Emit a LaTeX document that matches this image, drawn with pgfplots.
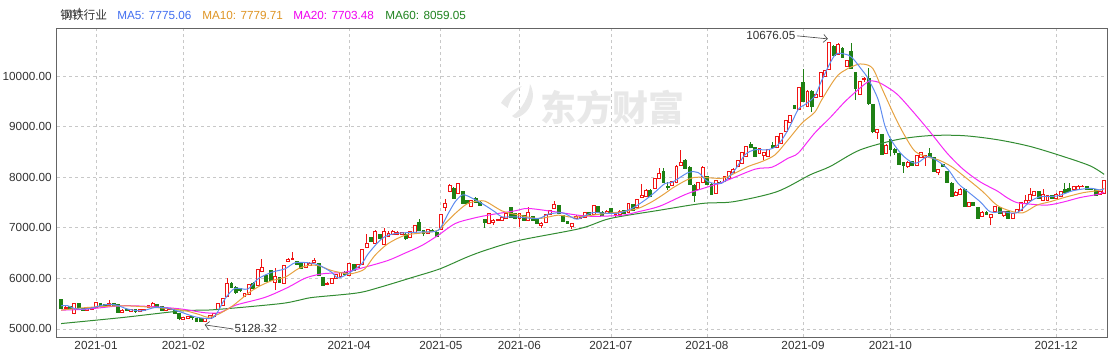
\documentclass[border=0pt]{standalone}
\usepackage{fontspec}
\setmainfont{Liberation Sans}
\newfontfamily\cjk{Noto Sans CJK SC}
\usepackage{pgfplots}
\pgfplotsset{compat=1.18}
\usepackage{pgfplotstable}
\usetikzlibrary{arrows.meta}

\definecolor{cup}{RGB}{240,20,20}
\definecolor{cdown}{RGB}{30,128,20}
\definecolor{ma5}{RGB}{95,140,240}
\definecolor{ma10}{RGB}{230,162,65}
\definecolor{ma20}{RGB}{245,40,245}
\definecolor{ma60}{RGB}{50,140,50}
\definecolor{t5}{RGB}{65,110,240}
\definecolor{t10}{RGB}{222,148,35}
\definecolor{t20}{RGB}{240,0,240}
\definecolor{t60}{RGB}{30,130,30}
\definecolor{axisgray}{RGB}{100,100,100}
\definecolor{gridgray}{RGB}{200,200,200}
\definecolor{labelgray}{RGB}{50,50,50}
\definecolor{wm}{RGB}{232,232,232}

\pgfplotstableread{
i O H L C
0 5580 5590 5390 5400
1 5410 5445 5400 5430
2 5440 5450 5405 5415
3 5310 5520 5290 5500
4 5500 5510 5420 5430
5 5400 5410 5360 5370
6 5365 5410 5355 5400
7 5380 5430 5370 5420
8 5430 5540 5420 5520
9 5500 5510 5450 5465
10 5480 5490 5445 5455
11 5460 5570 5450 5500
12 5500 5510 5460 5470
13 5480 5490 5320 5330
14 5330 5385 5320 5375
15 5390 5400 5350 5360
16 5350 5390 5340 5380
17 5390 5395 5320 5340
18 5355 5390 5350 5380
19 5370 5390 5360 5380
20 5420 5480 5410 5475
21 5440 5540 5430 5500
22 5490 5500 5430 5440
23 5440 5445 5350 5360
24 5370 5410 5365 5400
25 5390 5410 5380 5400
26 5390 5395 5300 5310
27 5310 5320 5170 5210
28 5195 5235 5185 5225
29 5210 5250 5200 5240
30 5240 5260 5180 5225
31 5210 5220 5150 5160
32 5200 5210 5140 5150
33 5140 5220 5128.32 5210
34 5200 5280 5190 5270
35 5250 5310 5240 5300
36 5380 5510 5370 5500
37 5460 5620 5450 5600
38 5640 6010 5630 5900
39 5910 5930 5800 5820
40 5830 5840 5700 5720
41 5800 5810 5740 5760
42 5650 5710 5640 5700
43 5680 5890 5670 5880
44 5910 5930 5790 5800
45 5860 6180 5850 6170
46 6135 6375 6120 6215
47 6055 6065 5925 5935
48 6150 6170 5950 5960
49 5920 6215 5780 6035
50 6020 6030 5910 5920
51 5900 6260 5890 6250
52 6335 6400 6320 6375
53 6380 6520 6370 6400
54 6340 6350 6260 6270
55 6290 6300 6190 6200
56 6215 6320 6205 6310
57 6260 6320 6250 6290
58 6320 6410 6310 6360
59 6290 6300 6040 6055
60 6020 6030 5850 5870
61 5880 5920 5860 5910
62 5900 6005 5890 5995
63 6000 6080 5990 6070
64 6045 6130 6030 6120
65 6120 6150 6070 6080
66 6055 6310 6040 6295
67 6270 6280 6150 6160
68 6210 6290 6200 6280
69 6275 6590 6265 6574
70 6610 6870 6600 6690
71 6810 6820 6720 6730
72 6690 6950 6680 6930
73 6870 6880 6780 6790
74 6670 6990 6660 6930
75 6830 6930 6820 6900
76 6870 6950 6860 6930
77 6880 6940 6850 6920
78 6880 6920 6870 6910
79 6880 6890 6760 6790
80 6820 6940 6810 6930
81 6910 7060 6900 7050
82 7115 7170 6940 6950
83 6950 6960 6830 6885
84 6890 6970 6880 6960
85 6960 6980 6920 6930
86 6915 6930 6810 6830
87 6970 7280 6960 7270
88 7410 7570 7330 7490
89 7715 7860 7700 7850
90 7790 7800 7580 7590
91 7690 7890 7680 7870
92 7715 7720 7470 7480
93 7550 7560 7470 7485
94 7420 7560 7410 7550
95 7580 7620 7500 7515
96 7515 7530 7440 7450
97 7170 7180 7000 7100
98 7090 7300 7080 7290
99 7100 7170 7060 7150
100 7140 7180 7130 7160
101 7150 7220 7140 7205
102 7190 7300 7180 7290
103 7410 7420 7200 7210
104 7285 7300 7170 7185
105 7190 7300 7010 7290
106 7250 7260 7140 7150
107 7140 7420 7130 7300
108 7220 7230 7140 7150
109 7185 7190 7075 7085
110 7050 7110 7000 7095
111 7100 7280 7090 7270
112 7270 7360 7260 7350
113 7385 7530 7375 7470
114 7440 7450 7270 7280
115 7250 7260 7110 7120
116 7120 7130 7080 7090
117 7030 7095 6970 7085
118 7185 7245 7175 7230
119 7180 7230 7170 7210
120 7205 7310 7195 7300
121 7300 7310 7245 7255
122 7270 7460 7260 7450
123 7430 7440 7305 7315
124 7315 7325 7240 7250
125 7285 7345 7275 7335
126 7385 7395 7290 7300
127 7250 7320 7200 7275
128 7270 7345 7260 7330
129 7340 7350 7280 7290
130 7310 7500 7300 7490
131 7470 7480 7340 7350
132 7410 7580 7400 7570
133 7605 7870 7595 7650
134 7630 7760 7620 7750
135 7750 7760 7605 7615
136 7790 7980 7780 7970
137 7970 8190 7960 8070
138 8110 8190 7900 7910
139 7825 7900 7750 7805
140 7850 7920 7840 7910
141 7890 8235 7880 8225
142 8245 8540 8235 8290
143 8345 8355 8160 8170
144 8205 8215 7860 7870
145 7850 7860 7510 7650
146 7770 7900 7760 7890
147 7890 8215 7880 8205
148 8010 8020 7860 7870
149 7870 7880 7660 7670
150 7690 7940 7680 7930
151 7910 7930 7880 7890
152 7910 8020 7900 8010
153 7970 8120 7960 8110
154 8090 8180 8080 8165
155 8210 8340 8200 8330
156 8270 8500 8260 8490
157 8410 8620 8400 8605
158 8645 8690 8575 8585
159 8585 8595 8415 8425
160 8470 8575 8460 8565
161 8425 8495 8340 8485
162 8405 8555 8395 8545
163 8625 8690 8575 8585
164 8585 8815 8575 8805
165 8665 8875 8655 8865
166 8905 9135 8895 9125
167 9085 9240 9075 9225
168 9420 9440 9350 9365
169 9345 9790 9335 9780
170 9880 10140 9490 9500
171 9405 9720 9390 9700
172 9700 9720 9300 9400
173 9585 9660 9575 9640
174 9600 10090 9590 10080
175 10000 10130 9990 10120
176 10140 10676.05 10130 10676
177 10600 10610 10400 10420
178 10440 10650 10430 10640
179 10560 10570 10370 10380
180 10200 10330 10190 10320
181 10500 10655 10150 10160
182 10080 10090 9540 9760
183 9640 9910 9630 9900
184 9930 9990 9890 9950
185 9960 10160 9440 9460
186 9440 9450 8870 8920
187 8880 8960 8760 8940
188 8845 8860 8440 8450
189 8480 8650 8470 8640
190 8760 8780 8430 8560
191 8560 8580 8450 8490
192 8480 8490 8240 8250
193 8290 8300 8090 8245
194 8210 8320 8190 8305
195 8310 8320 8230 8245
196 8245 8440 8235 8425
197 8400 8500 8390 8490
198 8395 8440 8230 8430
199 8465 8580 8400 8410
200 8400 8410 8110 8120
201 8090 8160 8040 8150
202 8250 8260 8210 8220
203 8115 8125 7885 7895
204 7890 7900 7620 7630
205 7650 7720 7640 7710
206 7670 7780 7660 7770
207 7770 7780 7420 7430
208 7430 7520 7420 7510
209 7500 7510 7430 7440
210 7400 7410 7175 7185
211 7230 7325 7220 7315
212 7315 7325 7260 7270
213 7205 7280 7050 7270
214 7320 7440 7310 7430
215 7400 7410 7280 7290
216 7250 7330 7220 7320
217 7320 7330 7175 7185
218 7185 7295 7175 7285
219 7300 7375 7290 7365
220 7350 7505 7340 7495
221 7490 7650 7480 7535
222 7535 7780 7525 7670
223 7650 7725 7640 7715
224 7715 7725 7575 7585
225 7535 7770 7525 7670
226 7545 7660 7535 7650
227 7650 7660 7575 7585
228 7590 7680 7580 7670
229 7620 7725 7610 7715
230 7760 7880 7690 7700
231 7780 7880 7710 7720
232 7770 7825 7760 7815
233 7770 7840 7760 7830
234 7815 7850 7800 7830
235 7815 7825 7760 7770
236 7780 7790 7760 7770
237 7760 7770 7640 7650
238 7670 7725 7660 7715
239 7690 7940 7680 7930
}\candles

\pgfplotstableread{
x y
0 5458
1.6 5458
3.2 5400
6.2 5400
10 5478
12.4 5478
15.3 5392
18.5 5358
21.5 5424
24.5 5410
27.7 5325
30.7 5239
33.7 5205
35.3 5259
37.6 5600
39.8 5800
42.8 5790
45.1 5990
48.3 6122
51.3 6189
53.6 6309
56.6 6309
58.9 6269
62 6122
63.4 6010
65.7 6090
68.9 6289
70.3 6480
73.5 6786
76.5 6886
82.7 6919
86.4 6952
88.7 7284
90.3 7517
91.9 7650
93.2 7629
96.4 7484
99.4 7318
101 7218
104 7218
109.3 7185
111.6 7271
114.8 7298
117 7211
118.4 7171
121.6 7298
124.6 7290
127.6 7290
130.8 7384
133.8 7550
136 7700
138.4 7880
140 7900
143.7 8094
146 8094
148.2 7916
151.4 7883
154.4 8147
156.7 8446
159 8546
162 8546
164.3 8645
166.6 8944
168.9 9342
170.5 9442
172.7 9607
174.4 9940
177.3 10418
179.6 10438
181.2 10372
183.5 10126
184.9 9954
187.2 9542
188.8 9010
190.4 8711
192.7 8446
195 8293
196.4 8293
198.6 8413
201 8313
203.2 8161
205.5 7883
207.1 7763
210.6 7517
212.9 7318
215.8 7318
219 7298
222 7517
224.3 7616
228.2 7630
231.9 7736
235.8 7782
238.1 7749
239 7775.06
}\mafive

\pgfplotstableread{
x y
0 5372
6 5424
14 5458
21.5 5424
27.7 5372
31.4 5292
33.7 5230
36 5290
39.2 5450
42.8 5700
45.1 5830
48.3 5956
51.3 6022
54.3 6189
56.6 6255
58.9 6255
62 6155
65.7 6090
67.4 6110
69.6 6190
71.9 6454
74.9 6687
78.8 6853
82.7 6899
86.4 6952
88 7085
90.3 7284
93.2 7484
96.4 7537
97.8 7500
101 7337
104 7270
109.3 7185
113.9 7251
117 7211
120.7 7240
124.6 7284
128.5 7318
132.2 7384
135.4 7517
138.4 7683
140 7783
143.7 7962
146 8002
151.4 7982
154.4 8082
157.4 8214
160.6 8313
163.6 8446
166.6 8745
169.8 9077
172.7 9289
174.4 9550
178 10020
182 10219
184 10239
186 10153
188 9775
191 9209
193.4 8811
195.7 8512
198.6 8400
201 8347
204 8214
207 8014
211.2 7716
214.4 7450
217.4 7337
220.4 7298
223.6 7450
226.6 7517
230.5 7616
234.2 7696
237.4 7736
239 7779.71
}\maten

\pgfplotstableread{
x y
0 5372
6 5392
14 5458
21.5 5438
27.7 5392
33 5320
36.4 5325
40 5470
46.7 5624
52 5823
55.9 6003
59.8 6090
65 6123
69.6 6222
74.9 6355
78.8 6500
82.7 6653
86.4 6853
90.3 7085
94.2 7185
97.8 7251
104 7337
107 7384
113.2 7318
120.7 7231
128.5 7250
132.2 7318
137.2 7430
143.7 7683
151.4 7900
159 8161
162.9 8201
166.6 8380
168.9 8480
172.7 8878
176.2 9180
180 9530
184.7 9880
186.5 9900
188.1 9847
191.5 9650
195.2 9300
199.1 8900
203 8480
206.7 8160
210.6 7910
214.5 7730
216.7 7600
219 7500
222 7470
225.9 7450
229.6 7510
233.5 7600
237.4 7660
239 7703.48
}\matwenty

\pgfplotstableread{
x y
0 5106
14 5225
27.7 5358
35 5380
50 5498
54.7 5572
57.7 5624
67.8 5711
73 5823
80.6 6022
86.8 6189
93 6421
97.6 6567
105 6753
118.9 6986
125.8 7185
137.2 7350
147 7484
154 7517
164 7715
171.6 8048
176.2 8214
183 8540
191.5 8745
199 8825
206.7 8825
214.5 8745
222 8612
229.6 8413
235.8 8227
239 8059.05
}\masixty

\begin{document}
\begin{tikzpicture}
\useasboundingbox (-42.75pt,-18.75pt) rectangle (791.25pt,252.75pt);
\begin{axis}[
  at={(0pt,0pt)}, anchor=south west,
  scale only axis, width=787.5pt, height=231.75pt,
  xmin=-0.94, xmax=239.66, ymin=4840, ymax=10955,
  clip=false,
  axis line style={draw=axisgray, line width=0.75pt},
  ytick={5000,6000,7000,8000,9000,10000},
  yticklabels={5000.00,6000.00,7000.00,8000.00,9000.00,10000.00},
  xtick={8,28,66,87,105,126,148,170,190,228},
  xticklabels={2021-01,2021-02,2021-04,2021-05,2021-06,2021-07,2021-08,2021-09,2021-10,2021-12},
  major tick length=0pt,
  grid=major,
  major grid style={dash pattern=on 2.5pt off 2pt, draw=gridgray, line width=0.6pt},
  tick label style={font=\fontsize{8.8}{10}\selectfont, text=labelgray},
  yticklabel style={xshift=-0.5pt},
]
\pgfplotstablegetrowsof{\candles}
\pgfmathtruncatemacro\nrows{\pgfplotsretval-1}
\pgfplotsforeachungrouped \k in {0,...,\nrows}{%
  \pgfplotstablegetelem{\k}{i}\of\candles \let\ci\pgfplotsretval
  \pgfplotstablegetelem{\k}{O}\of\candles \let\co\pgfplotsretval
  \pgfplotstablegetelem{\k}{H}\of\candles \let\ch\pgfplotsretval
  \pgfplotstablegetelem{\k}{L}\of\candles \let\cl\pgfplotsretval
  \pgfplotstablegetelem{\k}{C}\of\candles \let\cc\pgfplotsretval
  \pgfmathsetmacro\xa{\ci-0.33}%
  \pgfmathsetmacro\xb{\ci+0.33}%
  \ifdim\cc pt<\co pt
    \edef\cmd{%
      \noexpand\addplot[forget plot, draw=cdown, line width=0.6pt, mark=none] coordinates {(\ci,\cl) (\ci,\ch)};
      \noexpand\addplot[forget plot, draw=cdown, fill=cdown, line width=0.5pt, mark=none] coordinates {(\xa,\cc) (\xb,\cc) (\xb,\co) (\xa,\co)} -- cycle;
    }%
  \else
    \edef\cmd{%
      \noexpand\addplot[forget plot, draw=cup, line width=0.6pt, mark=none] coordinates {(\ci,\cl) (\ci,\ch)};
      \noexpand\addplot[forget plot, draw=cup, fill=white, line width=0.6pt, mark=none] coordinates {(\xa,\co) (\xb,\co) (\xb,\cc) (\xa,\cc)} -- cycle;
    }%
  \fi
  \cmd
}
\addplot[ma60, line width=0.75pt, smooth, tension=0.5, mark=none] table[x=x,y=y] {\masixty};
\addplot[ma20, line width=0.75pt, smooth, tension=0.5, mark=none] table[x=x,y=y] {\matwenty};
\addplot[ma10, line width=0.75pt, smooth, tension=0.5, mark=none] table[x=x,y=y] {\maten};
\addplot[ma5, line width=0.75pt, smooth, tension=0.5, mark=none] table[x=x,y=y] {\mafive};
% annotations
\draw[black!70, line width=0.5pt, -{Straight Barb[length=3pt]}] (axis cs:168.6,10800) -- (axis cs:175.7,10740);
\node[anchor=east, inner sep=1pt, font=\fontsize{8.8}{10}\selectfont, text=labelgray] at (axis cs:168.6,10810) {10676.05};
\draw[black!70, line width=0.5pt, -{Straight Barb[length=3pt]}] (axis cs:39.4,5000) -- (axis cs:32.9,5080);
\node[anchor=west, inner sep=1pt, font=\fontsize{8.8}{10}\selectfont, text=labelgray] at (axis cs:39.4,5000) {5128.32};
\end{axis}
% watermark (drawn over the grid, as in the reference)
\fill[wm] (333pt,175.5pt) .. controls (336pt,181pt) and (342pt,186pt) .. (348.75pt,188.25pt)
   .. controls (344pt,184pt) and (340pt,179pt) .. (338pt,171.75pt) -- cycle;
\fill[wm] (341.25pt,165.75pt) .. controls (349pt,171pt) and (354pt,180pt) .. (354.75pt,189.75pt)
   .. controls (358pt,184pt) and (358pt,176pt) .. (352pt,169pt) .. controls (349pt,166pt) and (345pt,164pt) .. (343.5pt,164.25pt) -- cycle;
\node[text=wm, font=\cjk\bfseries\fontsize{27}{27}\selectfont] at (416.25pt,172.1pt) {东方财富};
% title line
\node[anchor=west, inner sep=0pt, font=\cjk\fontsize{8.8}{10}\selectfont, text=labelgray] at (2.25pt,241.5pt) {钢铁行业};
\node[anchor=west, inner sep=0pt, font=\fontsize{8.8}{10}\selectfont, text=t5] at (45pt,241.5pt) {MA5: 7775.06};
\node[anchor=west, inner sep=0pt, font=\fontsize{8.8}{10}\selectfont, text=t10] at (108.75pt,241.5pt) {MA10: 7779.71};
\node[anchor=west, inner sep=0pt, font=\fontsize{8.8}{10}\selectfont, text=t20] at (177pt,241.5pt) {MA20: 7703.48};
\node[anchor=west, inner sep=0pt, font=\fontsize{8.8}{10}\selectfont, text=t60] at (246pt,241.5pt) {MA60: 8059.05};
\end{tikzpicture}
\end{document}
